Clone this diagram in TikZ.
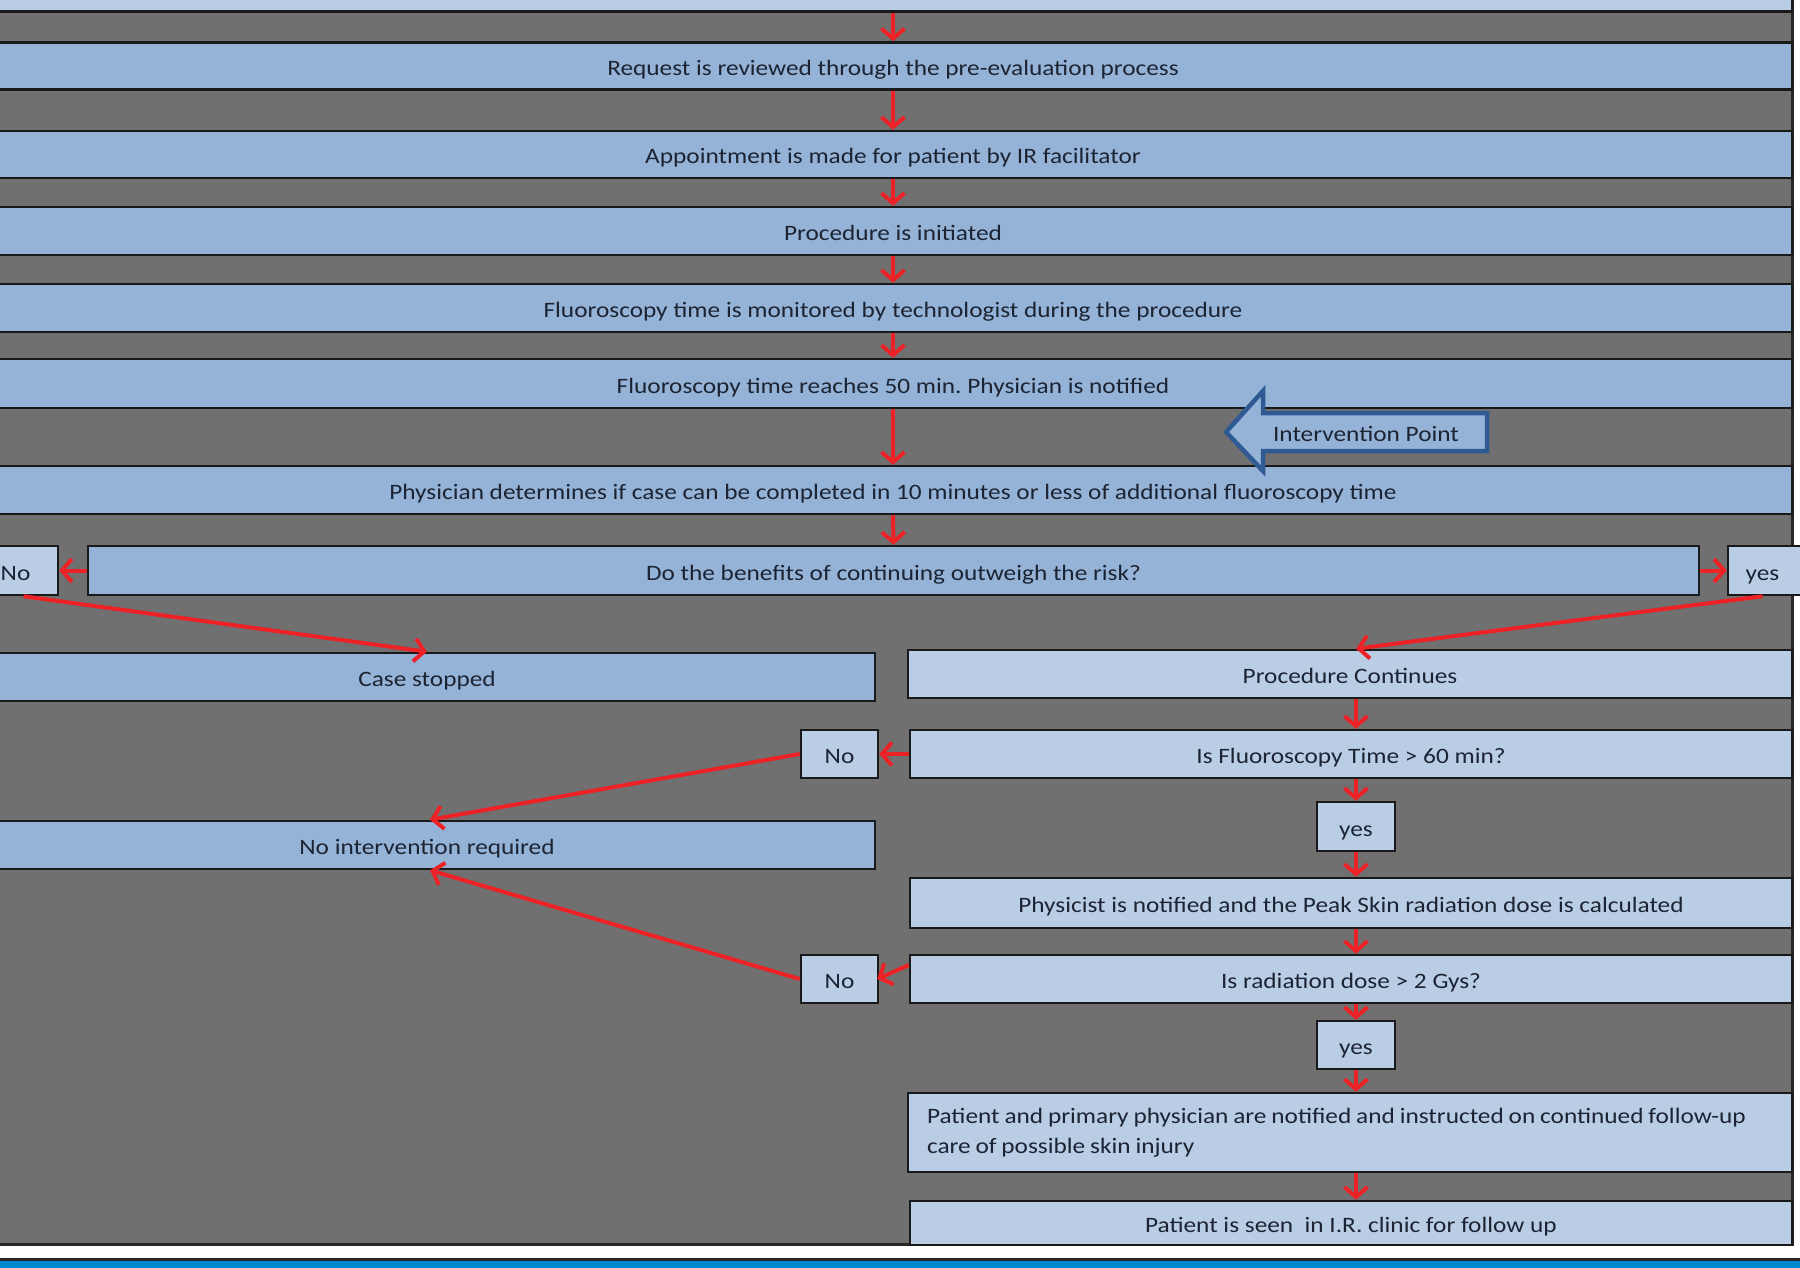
\documentclass[tikz,border=0pt]{standalone}
\usepackage{fontspec}
\setmainfont{Carlito}[FakeStretch=1.15]
\usetikzlibrary{arrows.meta}
\definecolor{bggray}{HTML}{707070}
\definecolor{midblue}{HTML}{95B3D7}
\definecolor{lightblue}{HTML}{B9CDE5}
\definecolor{txt}{HTML}{1C2433}
\definecolor{arrred}{HTML}{EC2227}
\definecolor{ipborder}{HTML}{2F5A94}
\definecolor{footblue}{HTML}{0088CC}
\frenchspacing
\begin{document}
\begin{tikzpicture}[x=1pt,y=-1pt,
  font=\fontsize{22}{30}\selectfont,
  bx/.style={rectangle, draw=black!90, line width=2.5pt, fill=midblue, text=txt, inner sep=0pt, anchor=center, text height=20pt, text depth=1pt},
  lbx/.style={bx, fill=lightblue},
  arr/.style={draw=arrred, line width=4pt, -{Straight Barb[length=10pt,width=23pt]}}]
\useasboundingbox (0,0) rectangle (1800,1268);
\clip (0,0) rectangle (1800,1268);
% background
\fill[white] (0,0) rectangle (1800,1268);
\draw[fill=bggray, draw=black!85, line width=3pt] (-10,-10) rectangle (1792,1244);
\draw[black!85, line width=3pt] (-10,1259) -- (1810,1259);
\fill[footblue] (-10,1260.5) rectangle (1810,1270);
% top full-width boxes
\node[lbx, minimum width=1798pt, minimum height=31pt] (top0) at (893,-4) {};
\node[bx, minimum width=1798pt, minimum height=47pt] (b1) at (893,66) {Request is reviewed through the pre-evaluation process};
\node[bx, minimum width=1798pt, minimum height=47pt] (b2) at (893,154.5) {Appointment is made for patient by IR facilitator};
\node[bx, minimum width=1798pt, minimum height=48pt] (b3) at (893,231) {Procedure is initiated};
\node[bx, minimum width=1798pt, minimum height=48pt] (b4) at (893,308) {Fluoroscopy time is monitored by technologist during the procedure};
\node[bx, minimum width=1798pt, minimum height=49pt] (b5) at (893,383.5) {Fluoroscopy time reaches 50 min. Physician is notified};
\node[bx, minimum width=1798pt, minimum height=48pt] (b6) at (893,490) {Physician determines if case can be completed in 10 minutes or less of additional fluoroscopy time};
% intervention point arrow
\draw[fill=midblue, draw=ipborder, line width=4.5pt, line join=miter]
  (1226,432) -- (1263,391) -- (1263,413) -- (1487,413) -- (1487,451) -- (1263,451) -- (1263,471) -- cycle;
\node[text=txt, text height=20pt, text depth=1pt, inner sep=0pt] (ip) at (1366,432) {Intervention Point};
% decision row
\node[bx, minimum width=1611pt, minimum height=49pt] (b7) at (893.5,570.5) {Do the benefits of continuing outweigh the risk?};
\node[lbx, minimum width=77pt, minimum height=49pt] (no0) at (19.5,570.5) {\hspace*{-8pt}No};
\node[lbx, minimum width=77pt, minimum height=49pt] (yes0) at (1766.5,570.5) {\hspace*{-8pt}yes};
% left column
\node[bx, minimum width=896pt, minimum height=48pt] (case) at (427,677) {Case stopped};
\node[bx, minimum width=896pt, minimum height=48pt] (noint) at (427,845) {No intervention required};
% right column
\node[lbx, minimum width=884pt, minimum height=48pt] (proc) at (1350,674) {Procedure Continues};
\node[lbx, minimum width=77pt, minimum height=48pt] (no1) at (839.5,754) {No};
\node[lbx, minimum width=882pt, minimum height=48pt] (fluoro) at (1351,754) {Is Fluoroscopy Time > 60 min?};
\node[lbx, minimum width=78pt, minimum height=49pt] (yes1) at (1356,826.5) {yes};
\node[lbx, minimum width=882pt, minimum height=50pt] (phys) at (1351,903) {Physicist is notified and the Peak Skin radiation dose is calculated};
\node[lbx, minimum width=77pt, minimum height=48pt] (no2) at (839.5,979) {No};
\node[lbx, minimum width=882pt, minimum height=48pt] (rad) at (1351,979) {Is radiation dose > 2 Gys?};
\node[lbx, minimum width=78pt, minimum height=48pt] (yes2) at (1356,1045) {yes};
\node[lbx, minimum width=884pt, minimum height=79pt, align=left, text width=846pt, text height=, text depth=] (pat) at (1350,1132.5) {\spaceskip=0.85\fontdimen2\font plus 0.1\fontdimen2\font\relax Patient and primary physician are notified and instructed on continued follow-up\\care of possible skin injury};
\node[lbx, minimum width=882pt, minimum height=44pt] (seen) at (1351,1223) {Patient is seen\ \ in I.R. clinic for follow up};
% connectors
\draw[arr] (top0.south) -- (b1.north);
\draw[arr] (b1.south) -- (b2.north);
\draw[arr] (b2.south) -- (b3.north);
\draw[arr] (b3.south) -- (b4.north);
\draw[arr] (b4.south) -- (b5.north);
\draw[arr] (b5.south) -- (b6.north);
\draw[arr] (b6.south) -- (b7.north);
\draw[arr] (b7.west) -- (no0.east);
\draw[arr] (b7.east) -- (yes0.east -| yes0.west);
\draw[arr] ([xshift=4pt]no0.south) -- (case.north);
\draw[arr] ([xshift=-4pt]yes0.south) -- ([xshift=6pt]proc.north);
\draw[arr] (proc.south -| yes1.north) -- (fluoro.north -| yes1.north);
\draw[arr] (fluoro.west) -- (no1.east);
\draw[arr] (no1.west) -- ([xshift=3pt]noint.north);
\draw[arr] (fluoro.south -| yes1.north) -- (yes1.north);
\draw[arr] (yes1.south) -- (phys.north -| yes1.south);
\draw[arr] (phys.south -| yes1.south) -- (rad.north -| yes1.south);
\draw[arr] ([yshift=14pt]rad.west) -- ([xshift=-2pt]no2.east);
\draw[arr] (no2.west) -- ([xshift=3pt]noint.south);
\draw[arr] (rad.south -| yes2.north) -- (yes2.north);
\draw[arr] (yes2.south) -- (pat.north -| yes2.south);
\draw[arr] (pat.south -| yes2.south) -- (seen.north -| yes2.south);
\end{tikzpicture}
\end{document}
